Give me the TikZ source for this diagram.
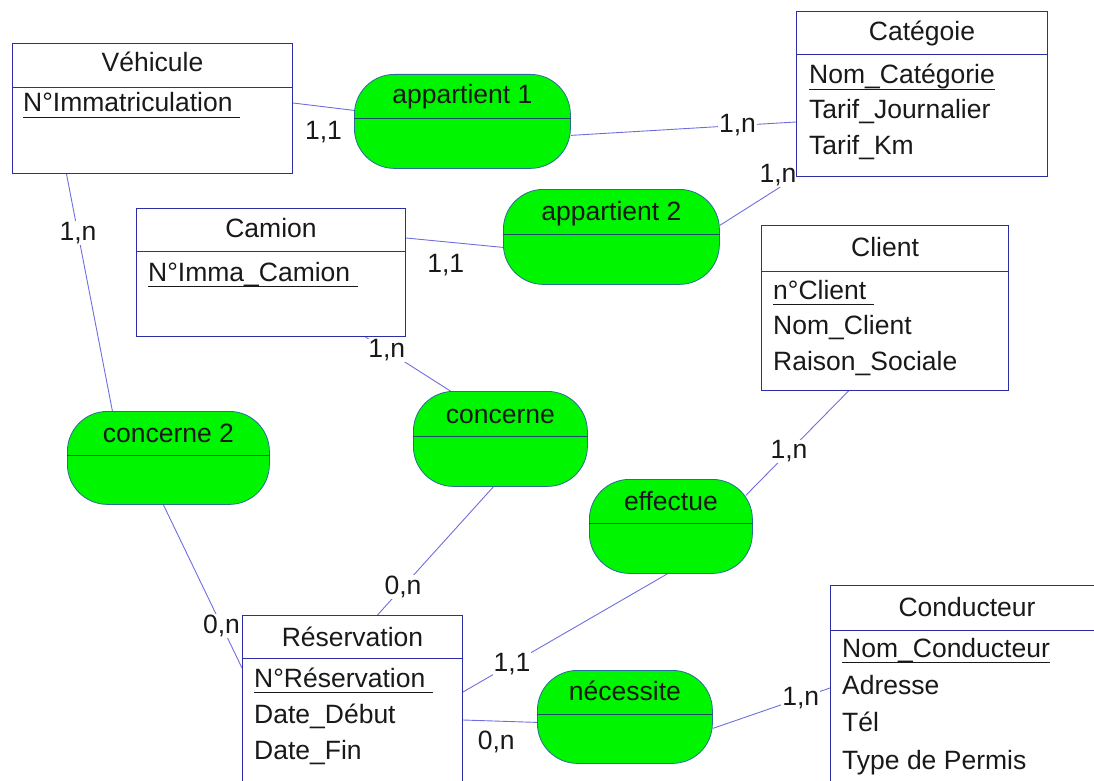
\documentclass[tikz,border=0pt]{standalone}
\usepackage{fontspec}
\setmainfont{Liberation Sans}
\usetikzlibrary{backgrounds}

\definecolor{bordEntite}{RGB}{45,45,165}
\definecolor{traitLien}{RGB}{110,110,225}
\definecolor{vertAssoc}{RGB}{0,245,0}
\definecolor{bordAssoc}{RGB}{40,110,150}
\definecolor{texteER}{RGB}{25,25,25}

\newcommand\erfont{\fontsize{26.5}{30}\selectfont}
% identifiant souligne
\newcommand\clef[1]{\setbox0\hbox{#1}\leavevmode\rlap{\raisebox{-6pt}{\rule{\wd0}{1.3pt}}}\box0}

\begin{document}
\begin{tikzpicture}[x=1pt,y=-1pt,
    entite/.style={draw=bordEntite,line width=1pt,anchor=north west,inner sep=0pt},
    assoc/.style={draw=bordAssoc,fill=vertAssoc,line width=0.8pt,rounded corners=40pt,anchor=north west,inner sep=0pt},
    milieu/.style={draw=bordAssoc!70!black,line width=1pt},
    titre/.style={font=\erfont,text=texteER,inner sep=0pt,anchor=base},
    attr/.style={font=\erfont,text=texteER,inner sep=0pt,anchor=base west},
    lien/.style={draw=traitLien,line width=0.9pt},
    card/.style={font=\erfont,text=texteER,fill=white,inner sep=1pt}]
    \useasboundingbox (0,0) rectangle (1094,781);
    \clip (0,0) rectangle (1094,781);

    % entites
    \node[entite,minimum width=280pt,minimum height=130pt] (vehicule) at (12,43) {};
    \draw[entite] ([yshift=-45pt]vehicule.north west) -- ([yshift=-45pt]vehicule.north east);
    \node[titre] at ([yshift=-29pt]vehicule.north) {Véhicule};
    \node[attr]  at ([xshift=11pt,yshift=-69pt]vehicule.north west) {\clef{N°Immatriculation\ }};

    \node[entite,minimum width=251pt,minimum height=165pt] (categorie) at (796,11) {};
    \draw[entite] ([yshift=-44pt]categorie.north west) -- ([yshift=-44pt]categorie.north east);
    \node[titre] at ([yshift=-30pt]categorie.north) {Catégoie};
    \node[attr]  at ([xshift=13pt,yshift=-73pt]categorie.north west)  {\clef{Nom\_Catégorie}};
    \node[attr]  at ([xshift=13pt,yshift=-107pt]categorie.north west) {Tarif\_Journalier};
    \node[attr]  at ([xshift=13pt,yshift=-143pt]categorie.north west) {Tarif\_Km};

    \node[entite,minimum width=269pt,minimum height=128pt] (camion) at (136,208) {};
    \draw[entite] ([yshift=-43pt]camion.north west) -- ([yshift=-43pt]camion.north east);
    \node[titre] at ([yshift=-29pt]camion.north) {Camion};
    \node[attr]  at ([xshift=12pt,yshift=-73pt]camion.north west) {\clef{N°Imma\_Camion\ }};

    \node[entite,minimum width=247pt,minimum height=165pt] (client) at (761,225) {};
    \draw[entite] ([yshift=-46pt]client.north west) -- ([yshift=-46pt]client.north east);
    \node[titre] at ([yshift=-31pt]client.north) {Client};
    \node[attr]  at ([xshift=12pt,yshift=-74pt]client.north west)  {\clef{n°Client\ }};
    \node[attr]  at ([xshift=12pt,yshift=-109pt]client.north west) {Nom\_Client};
    \node[attr]  at ([xshift=12pt,yshift=-145pt]client.north west) {Raison\_Sociale};

    \node[entite,minimum width=220pt,minimum height=180pt] (reservation) at (242,615) {};
    \draw[entite] ([yshift=-43pt]reservation.north west) -- ([yshift=-43pt]reservation.north east);
    \node[titre] at ([yshift=-31pt]reservation.north) {Réservation};
    \node[attr]  at ([xshift=12pt,yshift=-72pt]reservation.north west)  {\clef{N°Réservation\ }};
    \node[attr]  at ([xshift=12pt,yshift=-108pt]reservation.north west) {Date\_Début};
    \node[attr]  at ([xshift=12pt,yshift=-144pt]reservation.north west) {Date\_Fin};

    \node[entite,minimum width=275pt,minimum height=210pt] (conducteur) at (830,585) {};
    \draw[entite] ([yshift=-45pt]conducteur.north west) -- ([yshift=-45pt]conducteur.north east);
    \node[titre] at ([xshift=-1pt,yshift=-31pt]conducteur.north) {Conducteur};
    \node[attr]  at ([xshift=12pt,yshift=-72pt]conducteur.north west)  {\clef{Nom\_Conducteur}};
    \node[attr]  at ([xshift=12pt,yshift=-109pt]conducteur.north west) {Adresse};
    \node[attr]  at ([xshift=12pt,yshift=-146pt]conducteur.north west) {Tél};
    \node[attr]  at ([xshift=12pt,yshift=-184pt]conducteur.north west) {Type de Permis};

    % associations
    \node[assoc,minimum width=216pt,minimum height=94pt] (app1) at (354,74) {};
    \draw[milieu] ([yshift=2.5pt]app1.west) -- ([yshift=2.5pt]app1.east);
    \node[titre] at ([yshift=-30pt]app1.north) {appartient 1};

    \node[assoc,minimum width=216pt,minimum height=95pt] (app2) at (503,189) {};
    \draw[milieu] ([yshift=2.5pt]app2.west) -- ([yshift=2.5pt]app2.east);
    \node[titre] at ([yshift=-31pt]app2.north) {appartient 2};

    \node[assoc,minimum width=202pt,minimum height=93pt] (concerne2) at (67,411) {};
    \draw[milieu] ([yshift=2.5pt]concerne2.west) -- ([yshift=2.5pt]concerne2.east);
    \node[titre] at ([yshift=-31pt]concerne2.north) {concerne 2};

    \node[assoc,minimum width=174pt,minimum height=95pt] (concerne) at (413,391) {};
    \draw[milieu] ([yshift=2.5pt]concerne.west) -- ([yshift=2.5pt]concerne.east);
    \node[titre] at ([yshift=-32pt]concerne.north) {concerne};

    \node[assoc,minimum width=163pt,minimum height=94pt] (effectue) at (589,479) {};
    \draw[milieu] ([yshift=2.5pt]effectue.west) -- ([yshift=2.5pt]effectue.east);
    \node[titre] at ([yshift=-31pt]effectue.north) {effectue};

    \node[assoc,minimum width=175pt,minimum height=93pt] (necessite) at (537,670) {};
    \draw[milieu] ([yshift=2.5pt]necessite.west) -- ([yshift=2.5pt]necessite.east);
    \node[titre] at ([yshift=-30pt]necessite.north) {nécessite};

    % liens
    \begin{scope}[on background layer]
    \draw[lien] ([yshift=-60pt]vehicule.north east) -- node[card,pos=0.5,yshift=-25pt] {1,1} ([yshift=11pt]app1.west);
    \draw[lien] ([yshift=-14pt]app1.east) -- node[card,pos=0.74] {1,n} ([yshift=-111pt]categorie.north west);
    \draw[lien] ([yshift=-30pt]camion.north east) -- node[card,pos=0.41,yshift=-23pt] {1,1} ([yshift=-10.5pt]app2.west);
    \draw[lien] ([yshift=11.5pt]app2.east) -- node[card,pos=1,xshift=-18pt,yshift=2pt] {1,n} (categorie.south west);
    \draw[lien] ([xshift=-86pt]vehicule.south) -- node[card,pos=0.25] {1,n} ([xshift=-56pt]concerne2.north);
    \draw[lien] ([xshift=94.5pt]camion.south) -- node[card,pos=0.25] {1,n} ([xshift=-50pt]concerne.north);
    \draw[lien] ([xshift=-7pt]concerne.south) -- node[card,pos=0.78] {0,n} ([xshift=25pt]reservation.north);
    \draw[lien] ([xshift=-5pt]concerne2.south) -- node[card,pos=0.74] {0,n} ([yshift=-53pt]reservation.north west);
    \draw[lien] ([xshift=-36.5pt]client.south) -- node[card,pos=0.58] {1,n} ([xshift=-7pt,yshift=31pt]effectue.east);
    \draw[lien] ([xshift=-3.5pt]effectue.south) -- node[card,pos=0.76] {1,1} ([yshift=-77pt]reservation.north east);
    \draw[lien] ([yshift=-105pt]reservation.north east) -- node[card,pos=0.45,yshift=-21pt] {0,n} ([yshift=-5.5pt]necessite.west);
    \draw[lien] ([yshift=-11.5pt]necessite.east) -- node[card,pos=0.75] {1,n} ([yshift=-103pt]conducteur.north west);
    \end{scope}
\end{tikzpicture}
\end{document}
